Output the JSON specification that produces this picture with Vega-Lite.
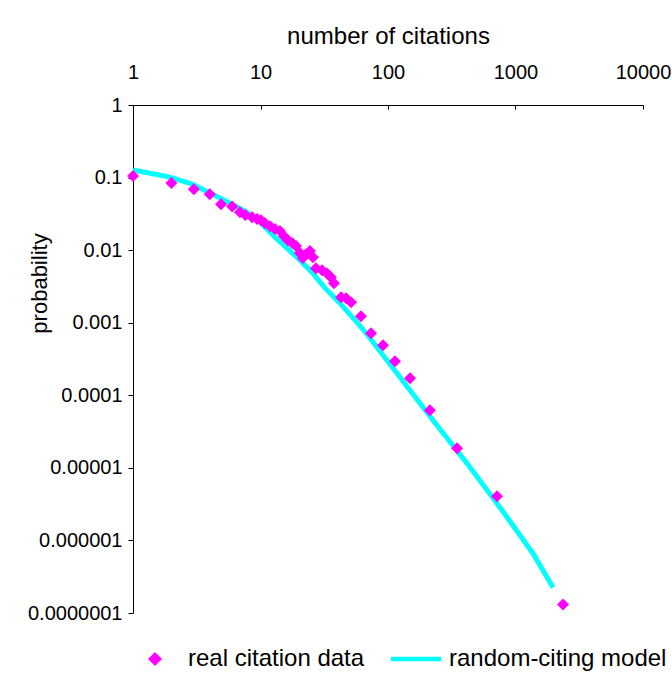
{
  "$schema": "https://vega.github.io/schema/vega-lite/v6.json",
  "width": 510,
  "height": 508,
  "autosize": {"type": "none"},
  "padding": {"left": 133, "top": 105, "right": 29, "bottom": 69},
  "background": "white",
  "config": {
    "view": {"stroke": null},
    "font": "Liberation Sans",
    "axis": {
      "grid": false,
      "domainColor": "black",
      "tickColor": "black",
      "labelColor": "black",
      "titleColor": "black",
      "labelFont": "Liberation Sans",
      "titleFont": "Liberation Sans",
      "titleFontWeight": "normal",
      "labelFlush": false,
      "labelOverlap": false
    },
    "legend": {
      "orient": "none",
      "legendX": -3,
      "legendY": 529,
      "direction": "horizontal",
      "symbolSize": 2500,
      "symbolStrokeWidth": 0,
      "labelFont": "Liberation Sans",
      "labelFontSize": 24,
      "labelColor": "black",
      "labelOffset": 8,
      "columnPadding": 26,
      "labelLimit": 400
    }
  },
  "datasets": {
    "real": [
      {"citations": 1, "probability": 0.105, "series": "real citation data"},
      {"citations": 2, "probability": 0.084, "series": "real citation data"},
      {"citations": 3, "probability": 0.069, "series": "real citation data"},
      {"citations": 4, "probability": 0.059, "series": "real citation data"},
      {"citations": 4.9, "probability": 0.043, "series": "real citation data"},
      {"citations": 6, "probability": 0.040, "series": "real citation data"},
      {"citations": 6.9, "probability": 0.0334, "series": "real citation data"},
      {"citations": 7.6, "probability": 0.0304, "series": "real citation data"},
      {"citations": 8.6, "probability": 0.0285, "series": "real citation data"},
      {"citations": 9.4, "probability": 0.0268, "series": "real citation data"},
      {"citations": 10.1, "probability": 0.0259, "series": "real citation data"},
      {"citations": 10.8, "probability": 0.0236, "series": "real citation data"},
      {"citations": 11.9, "probability": 0.0214, "series": "real citation data"},
      {"citations": 13.0, "probability": 0.0195, "series": "real citation data"},
      {"citations": 14.2, "probability": 0.0183, "series": "real citation data"},
      {"citations": 15.3, "probability": 0.0156, "series": "real citation data"},
      {"citations": 16.4, "probability": 0.0137, "series": "real citation data"},
      {"citations": 17.7, "probability": 0.0125, "series": "real citation data"},
      {"citations": 19.0, "probability": 0.0114, "series": "real citation data"},
      {"citations": 20.4, "probability": 0.0091, "series": "real citation data"},
      {"citations": 21.5, "probability": 0.0078, "series": "real citation data"},
      {"citations": 22.7, "probability": 0.0088, "series": "real citation data"},
      {"citations": 24.4, "probability": 0.0097, "series": "real citation data"},
      {"citations": 25.8, "probability": 0.0080, "series": "real citation data"},
      {"citations": 27.2, "probability": 0.00565, "series": "real citation data"},
      {"citations": 30.4, "probability": 0.0053, "series": "real citation data"},
      {"citations": 33.2, "probability": 0.0048, "series": "real citation data"},
      {"citations": 35.7, "probability": 0.00424, "series": "real citation data"},
      {"citations": 37.7, "probability": 0.00351, "series": "real citation data"},
      {"citations": 42.8, "probability": 0.00225, "series": "real citation data"},
      {"citations": 46.9, "probability": 0.00218, "series": "real citation data"},
      {"citations": 51.3, "probability": 0.00192, "series": "real citation data"},
      {"citations": 61.4, "probability": 0.00123, "series": "real citation data"},
      {"citations": 73.6, "probability": 0.000716, "series": "real citation data"},
      {"citations": 91.4, "probability": 0.00049, "series": "real citation data"},
      {"citations": 113.5, "probability": 0.000294, "series": "real citation data"},
      {"citations": 148.8, "probability": 0.000172, "series": "real citation data"},
      {"citations": 213, "probability": 0.0000621, "series": "real citation data"},
      {"citations": 348, "probability": 0.0000186, "series": "real citation data"},
      {"citations": 716, "probability": 0.00000405, "series": "real citation data"},
      {"citations": 2359, "probability": 0.000000131, "series": "real citation data"}
    ],
    "model": [
      {"citations": 1, "probability": 0.1269},
      {"citations": 1.951, "probability": 0.1016},
      {"citations": 2.902, "probability": 0.0813},
      {"citations": 4.018, "probability": 0.0611},
      {"citations": 5.56, "probability": 0.0459},
      {"citations": 7.56, "probability": 0.0345},
      {"citations": 9.91, "probability": 0.02433},
      {"citations": 12.99, "probability": 0.01511},
      {"citations": 16.43, "probability": 0.01032},
      {"citations": 20.4, "probability": 0.00728},
      {"citations": 25.3, "probability": 0.00497},
      {"citations": 32.1, "probability": 0.00299},
      {"citations": 42.0, "probability": 0.001858},
      {"citations": 55.1, "probability": 0.001083},
      {"citations": 68.4, "probability": 0.000694},
      {"citations": 91.4, "probability": 0.000356},
      {"citations": 124.2, "probability": 0.000177},
      {"citations": 225.4, "probability": 0.0000452},
      {"citations": 416.5, "probability": 0.00001153},
      {"citations": 755.8, "probability": 0.00000285},
      {"citations": 1372, "probability": 0.000000662},
      {"citations": 1968, "probability": 0.000000225}
    ]
  },
  "layer": [
    {
      "data": {"name": "model"},
      "mark": {"type": "line", "color": "#00FFFF", "strokeWidth": 5, "clip": false},
      "encoding": {
        "x": {
          "field": "citations",
          "type": "quantitative",
          "scale": {"type": "log", "domain": [1, 10000], "nice": false},
          "axis": {
            "orient": "top",
            "title": "number of citations",
            "values": [1, 10, 100, 1000, 10000],
            "format": "d",
            "labelFontSize": 20,
            "labelBaseline": "alphabetic",
            "tickSize": -4,
            "labelPadding": 31,
            "titleFontSize": 24,
            "titleBaseline": "alphabetic",
            "titleY": -62
          }
        },
        "y": {
          "field": "probability",
          "type": "quantitative",
          "scale": {"type": "log", "domain": [0.0000001, 1], "nice": false},
          "axis": {
            "title": "probability",
            "values": [0.0000001, 0.000001, 0.00001, 0.0001, 0.001, 0.01, 0.1, 1],
            "labelExpr": "format(datum.value, '.7~f')",
            "labelFontSize": 20,
            "tickSize": 5,
            "labelPadding": 6,
            "titleFontSize": 22,
            "titleBaseline": "middle",
            "titleX": -94,
            "titleY": 178
          }
        }
      }
    },
    {
      "data": {"name": "real"},
      "mark": {"type": "point", "filled": true, "opacity": 1, "size": 1837, "strokeWidth": 0},
      "encoding": {
        "x": {"field": "citations", "type": "quantitative"},
        "y": {"field": "probability", "type": "quantitative"},
        "color": {
          "field": "series",
          "type": "nominal",
          "scale": {"domain": ["real citation data", "random-citing model"], "range": ["#FF00FF", "#00FFFF"]},
          "legend": {"title": null}
        },
        "shape": {
          "field": "series",
          "type": "nominal",
          "scale": {"domain": ["real citation data", "random-citing model"], "range": ["M-0.28,0L0,-0.28L0.28,0L0,0.28Z", "M-1,-0.09L1,-0.09L1,0.09L-1,0.09Z"]},
          "legend": {"title": null}
        }
      }
    }
  ]
}
